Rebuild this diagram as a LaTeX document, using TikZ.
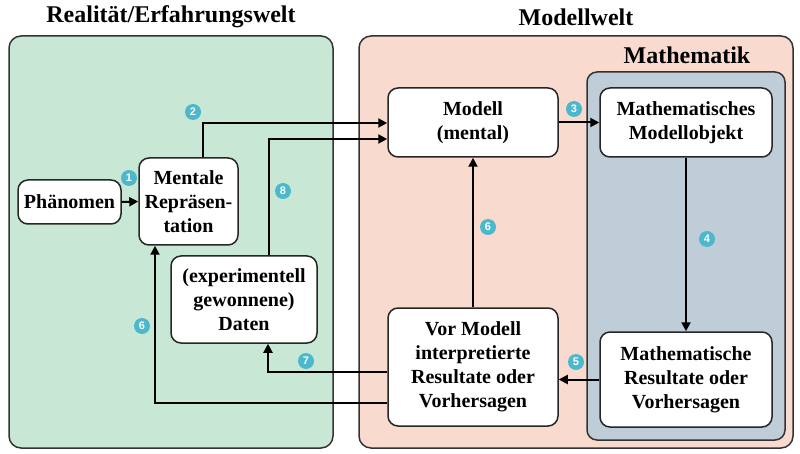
\documentclass[tikz,border=0pt]{standalone}
\usepackage{fontspec}
\setmainfont{Liberation Serif}
\newfontfamily\badgefont{Liberation Sans}
\usetikzlibrary{arrows.meta,positioning}
\definecolor{greenbg}{HTML}{C8E8D5}
\definecolor{pinkbg}{HTML}{F9DACE}
\definecolor{bluebg}{HTML}{BFCDD8}
\definecolor{badgecol}{HTML}{4BB8CC}
\definecolor{frame}{HTML}{333333}
\tikzset{
  area/.style={draw=frame, line width=1.5pt, rounded corners=12pt},
  box/.style={draw=black!85, line width=1.5pt, rounded corners=10pt, fill=white,
    align=center, font=\fontsize{20}{24}\selectfont\bfseries, inner sep=0pt},
  title/.style={font=\fontsize{24}{28}\selectfont\bfseries},
  conn/.style={line width=2pt, -{Triangle[length=9pt,width=9pt]}},
  badge/.style={circle, fill=badgecol, text=white, inner sep=0pt, minimum size=16pt,
    font=\badgefont\fontsize{11}{11}\selectfont\bfseries}
}
\begin{document}
\begin{tikzpicture}[x=1pt,y=-1pt]
\useasboundingbox (0,0) rectangle (800,454);
% areas
\draw[area, fill=greenbg] (9,36) rectangle (333,448);
\draw[area, fill=pinkbg] (359,36) rectangle (793,448);
\draw[area, fill=bluebg, rounded corners=10pt] (587,72) rectangle (785,440);
% titles
\node[title] (tReal) at (171,17) {Realität/Erfahrungswelt};
\node[title] (tModel) at (576,17) {Modellwelt};
\node[title] (tMath) at (687,55) {Mathematik};
% nodes
\node[box, minimum width=103pt, minimum height=44pt] (Ph) at (69.5,202) {Phänomen};
\node[box, minimum width=99pt, minimum height=87pt] (MR) at (188.5,201.5) {Mentale\\Repräsen-\\tation};
\node[box, minimum width=146pt, minimum height=87pt] (Da) at (244,299.5) {(experimentell\\gewonnene)\\Daten};
\node[box, minimum width=170pt, minimum height=69pt] (Mo) at (473,122.5) {Modell\\(mental)};
\node[box, minimum width=172pt, minimum height=69pt] (MMO) at (686,122.5) {Mathematisches\\Modellobjekt};
\node[box, minimum width=170pt, minimum height=118pt] (Vor) at (473,367) {Vor Modell\\interpretierte\\Resultate oder\\Vorhersagen};
\node[box, minimum width=172pt, minimum height=95pt] (MRes) at (686,379.5) {Mathematische\\Resultate oder\\Vorhersagen};
% helper coordinates
\coordinate (c2) at (203,123);
\coordinate (c8) at (269,139);
\coordinate (c7) at (268,372);
\coordinate (c6) at (155,403);
% connectors
\draw[conn] (Ph.east) -- (MR.west);
\draw[conn] (MR.north -| c2) |- (Mo.west |- c2);
\draw[conn] (Da.north -| c8) |- (Mo.west |- c8);
\draw[conn] (Mo.east) -- (MMO.west);
\draw[conn] (MMO.south) -- (MRes.north);
\draw[conn] (MRes.west) -- (Vor.east |- MRes.west);
\draw[conn] (Vor.north) -- (Mo.south);
\draw[conn] (Vor.west |- c7) -| (Da.south -| c7);
\draw[conn] (Vor.west |- c6) -| (MR.south -| c6);
% badges
\node[badge] (b1) at (129,178) {1};
\node[badge] (b2) at (193,112) {2};
\node[badge] (b8) at (283,191) {8};
\node[badge] (b3) at (574,109) {3};
\node[badge] (b4) at (707,239) {4};
\node[badge] (b5) at (576,362) {5};
\node[badge] (b6a) at (488,227) {6};
\node[badge] (b7) at (306,361) {7};
\node[badge] (b6b) at (142,326) {6};
\end{tikzpicture}
\end{document}
